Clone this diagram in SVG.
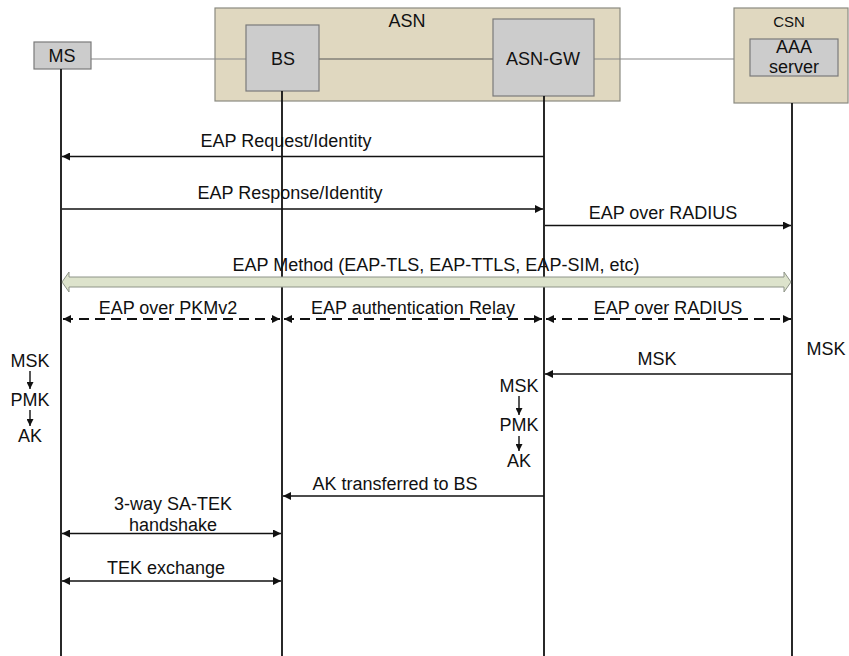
<svg xmlns="http://www.w3.org/2000/svg" width="849" height="656" viewBox="0 0 849 656">
<style>
text{font-family:"Liberation Sans",Arial,sans-serif;font-size:18px;fill:#111;text-anchor:middle}
.grp{fill:#e0d8c0;stroke:#8a8a80;stroke-width:1.2}
.ent{fill:#cccccc;stroke:#7a7a7a;stroke-width:1.2}
.life{stroke:#111;stroke-width:1.8;fill:none}
.msg{stroke:#111;stroke-width:1.6;fill:none}
.dash{stroke:#111;stroke-width:1.8;fill:none;stroke-dasharray:10 6}
.link{stroke:#888;stroke-width:1.2}
</style>
<defs>
<marker id="ah" viewBox="0 0 10 10" refX="10" refY="5" markerWidth="8" markerHeight="8" markerUnits="userSpaceOnUse" orient="auto-start-reverse">
<path d="M0,0 L10,5 L0,10 z" fill="#111"/>
</marker>
<marker id="sah" viewBox="0 0 10 10" refX="10" refY="5" markerWidth="7" markerHeight="7" markerUnits="userSpaceOnUse" orient="auto">
<path d="M0,0 L10,5 L0,10 z" fill="#111"/>
</marker>
</defs>
<g id="asn"><rect class="grp" x="215" y="8" width="405" height="93"/><text x="407" y="27">ASN</text></g>
<g id="csn"><rect class="grp" x="734" y="8" width="114" height="95"/><text x="789" y="27" style="font-size:15px">CSN</text></g>
<g id="links">
<line class="link" x1="91" y1="59" x2="246" y2="59"/>
<line class="link" x1="319" y1="59" x2="493" y2="59" style="stroke:#555"/>
<line class="link" x1="594" y1="59" x2="734" y2="59"/>
</g>
<g id="ms"><rect class="ent" x="34" y="42" width="57" height="27"/><text x="62" y="62">MS</text></g>
<g id="bs"><rect class="ent" x="246" y="25" width="73" height="66"/><text x="283" y="65">BS</text></g>
<g id="asngw"><rect class="ent" x="493" y="19" width="101" height="77"/><text x="543" y="65">ASN-GW</text></g>
<g id="aaa"><rect class="ent" x="750" y="39" width="88" height="37"/><text x="794" y="53">AAA</text><text x="794" y="73">server</text></g>
<g id="lifelines">
<line class="life" x1="61" y1="69" x2="61" y2="656"/>
<line class="life" x1="282" y1="91" x2="282" y2="656"/>
<line class="life" x1="544" y1="96" x2="544" y2="656"/>
<line class="life" x1="792" y1="103" x2="792" y2="656"/>
</g>
<g id="connectors">
<line class="msg" x1="544" y1="156.5" x2="62" y2="156.5" marker-end="url(#ah)"/>
<line class="msg" x1="62" y1="209" x2="543" y2="209" marker-end="url(#ah)"/>
<line class="msg" x1="545" y1="225.5" x2="791" y2="225.5" marker-end="url(#ah)"/>
<path d="M62,282 L69,272 L69,277 L784,277 L784,272 L791,282 L784,292 L784,287 L69,287 L69,292 Z" fill="#dde3cc" stroke="#8e9488" stroke-width="1"/>
<line class="dash" x1="63" y1="319" x2="280" y2="319" marker-start="url(#ah)" marker-end="url(#ah)"/>
<line class="dash" x1="284" y1="319" x2="542" y2="319" marker-start="url(#ah)" marker-end="url(#ah)"/>
<line class="dash" x1="546" y1="319" x2="791" y2="319" marker-start="url(#ah)" marker-end="url(#ah)"/>
<line class="msg" x1="792" y1="374" x2="545" y2="374" marker-end="url(#ah)"/>
<line class="msg" x1="544" y1="496" x2="283" y2="496" marker-end="url(#ah)"/>
<line class="msg" x1="62" y1="533.5" x2="281" y2="533.5" marker-start="url(#ah)" marker-end="url(#ah)"/>
<line class="msg" x1="62" y1="581" x2="281" y2="581" marker-start="url(#ah)" marker-end="url(#ah)"/>
<line class="msg" x1="30" y1="371" x2="30" y2="389" marker-end="url(#sah)" style="stroke-width:1.4"/>
<line class="msg" x1="30" y1="410" x2="30" y2="426" marker-end="url(#sah)" style="stroke-width:1.4"/>
<line class="msg" x1="519" y1="396" x2="519" y2="415" marker-end="url(#sah)" style="stroke-width:1.4"/>
<line class="msg" x1="519" y1="436" x2="519" y2="451" marker-end="url(#sah)" style="stroke-width:1.4"/>
</g>
<g id="labels">
<text x="286" y="147">EAP Request/Identity</text>
<text x="290" y="199">EAP Response/Identity</text>
<text x="663" y="219">EAP over RADIUS</text>
<text x="436" y="271">EAP Method (EAP-TLS, EAP-TTLS, EAP-SIM, etc)</text>
<text x="168" y="314">EAP over PKMv2</text>
<text x="413" y="314">EAP authentication Relay</text>
<text x="668" y="314">EAP over RADIUS</text>
<text x="826" y="355">MSK</text>
<text x="657" y="365">MSK</text>
<text x="30" y="367">MSK</text>
<text x="30" y="406">PMK</text>
<text x="30" y="442">AK</text>
<text x="519" y="392">MSK</text>
<text x="519" y="431">PMK</text>
<text x="519" y="467">AK</text>
<text x="395" y="490">AK transferred to BS</text>
<text x="173" y="510">3-way SA-TEK</text>
<text x="173" y="531">handshake</text>
<text x="166" y="574">TEK exchange</text>
</g>
</svg>
